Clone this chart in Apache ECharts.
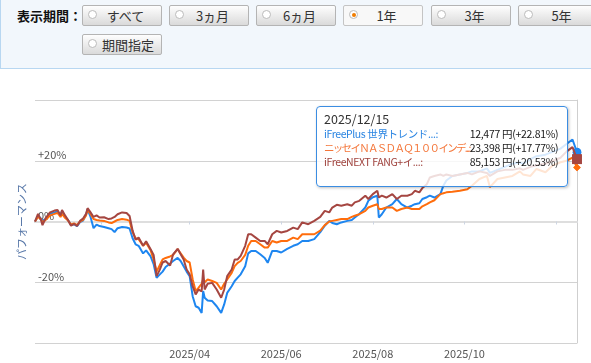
<!DOCTYPE html>
<html><head><meta charset="utf-8">
<script src="https://cdn.jsdelivr.net/npm/echarts@6/dist/echarts.min.js"></script>
<style>
html,body{margin:0;padding:0;width:591px;height:363px;overflow:hidden;background:#fff;font-family:"Noto Sans CJK JP","Noto Sans",sans-serif;}
#chart{position:absolute;left:0;top:0;width:591px;height:363px;}
#panel{position:absolute;left:0;top:0;width:640px;height:69px;background:#f2f7fc;border-left:1px solid #b8d7f1;border-bottom:1px solid #b8d7f1;box-sizing:border-box;z-index:5;}
.lbl{position:absolute;left:16px;top:7px;font-size:13px;font-weight:bold;color:#111;line-height:18px;}
.btn{position:absolute;width:80px;height:21px;box-sizing:border-box;border:1px solid #b4b4b4;border-radius:2px;background:linear-gradient(#fefefe,#dadada);font-size:13px;color:#333;line-height:19px;text-align:center;padding-left:7px;}
.btn .r{position:absolute;left:5px;top:4px;width:7px;height:7px;border:1px solid #bbb;border-radius:50%;background:#fff;}
.btn.sel{background:#f8f8f8;border-color:#c4c4c4;}
.btn.sel .r::after{content:'';position:absolute;left:1.5px;top:1.5px;width:4px;height:4px;border-radius:50%;background:#f07d00;}
</style>
</head><body>
<div id="chart"></div>
<div id="panel">
  <div class="lbl">表示期間：</div>
  <div class="btn" style="left:81px;top:5px"><span class="r"></span>すべて</div>
  <div class="btn" style="left:168px;top:5px"><span class="r"></span>3ヵ月</div>
  <div class="btn" style="left:255px;top:5px"><span class="r"></span>6ヵ月</div>
  <div class="btn sel" style="left:342px;top:5px"><span class="r"></span>1年</div>
  <div class="btn" style="left:430px;top:5px"><span class="r"></span>3年</div>
  <div class="btn" style="left:517px;top:5px"><span class="r"></span>5年</div>
  <div class="btn" style="left:81px;top:34px;padding-left:12px"><span class="r"></span>期間指定</div>
</div>
<script>
const dates = ['2024-12-19','2024-12-21','2024-12-23','2024-12-24','2024-12-26','2024-12-29','2025-01-01','2025-01-03','2025-01-05','2025-01-06',
'2025-01-08','2025-01-10','2025-01-12','2025-01-14','2025-01-16','2025-01-18','2025-01-20','2025-01-22','2025-01-23','2025-01-25',
'2025-01-27','2025-01-29','2025-01-31','2025-02-03','2025-02-06','2025-02-08','2025-02-10','2025-02-12','2025-02-15','2025-02-18',
'2025-02-20','2025-02-22','2025-02-24','2025-02-26','2025-03-01','2025-03-03','2025-03-06','2025-03-08','2025-03-10','2025-03-12',
'2025-03-14','2025-03-16','2025-03-19','2025-03-21','2025-03-24','2025-03-26','2025-03-28','2025-03-30','2025-04-01','2025-04-03',
'2025-04-05','2025-04-07','2025-04-09','2025-04-10','2025-04-11','2025-04-13','2025-04-16','2025-04-19','2025-04-22','2025-04-24',
'2025-04-26','2025-04-29','2025-05-01','2025-05-03','2025-05-05','2025-05-08','2025-05-10','2025-05-12','2025-05-15','2025-05-18',
'2025-05-21','2025-05-23','2025-05-26','2025-05-29','2025-06-01','2025-06-05','2025-06-09','2025-06-12','2025-06-15','2025-06-19',
'2025-06-23','2025-06-27','2025-06-30','2025-07-03','2025-07-05','2025-07-08','2025-07-11','2025-07-15','2025-07-18','2025-07-20',
'2025-07-23','2025-07-27','2025-07-29','2025-08-01','2025-08-04','2025-08-05','2025-08-07','2025-08-10','2025-08-14','2025-08-17',
'2025-08-20','2025-08-24','2025-08-27','2025-08-29','2025-09-01','2025-09-03','2025-09-06','2025-09-08','2025-09-11','2025-09-15',
'2025-09-17','2025-09-19','2025-09-23','2025-09-28','2025-10-03','2025-10-06','2025-10-11','2025-10-16','2025-10-18','2025-10-23',
'2025-10-28','2025-11-02','2025-11-07','2025-11-09','2025-11-14','2025-11-18','2025-11-24','2025-11-29','2025-12-04','2025-12-08',
'2025-12-12','2025-12-15'];
const blueVals = [0,1.8,1.0,0.3,0.8,2.5,3.0,3.3,2.0,3.5,
1.5,0.5,-1.2,-0.9,-1.5,-0.2,0.3,2.3,4.0,1.5,
-2.2,-1.0,-1.5,-1.8,-2.2,-2.5,-3.5,-2.2,-1.8,-2.0,
-2.3,-5.5,-7.5,-8.0,-10.5,-9.5,-11.5,-14.0,-18.5,-17.5,
-16.5,-15.0,-13.8,-13.0,-12.0,-13.0,-14.7,-16.5,-18.0,-24.6,
-27.9,-28.4,-30.1,-22.9,-25.1,-26.0,-26.2,-27.9,-30.1,-27.3,
-23.5,-21.3,-19.6,-18.5,-17.4,-14.7,-10.5,-9.7,-9.7,-10.8,
-12.0,-13.6,-9.7,-9.7,-10.2,-9.0,-8.0,-7.5,-6.4,-6.4,
-5.8,-3.5,-1.4,0.2,-0.5,-0.9,-0.3,0.2,0.5,1.3,
2.5,4.6,6.8,8.0,8.5,1.3,2.4,4.6,5.7,7.4,
5.7,4.6,5.2,5.7,6.0,7.4,8.0,8.5,7.9,9.0,
11.8,13.5,15.0,15.5,16.0,16.5,16.5,17.5,16.0,17.0,
18.0,19.0,19.5,19.0,20.5,21.5,22.0,23.0,24.0,25.5,
27.0,22.81];
const orangeVals = [0,1.5,0.8,-0.3,0.5,2.0,2.5,2.8,1.5,2.5,
1.2,0.3,-1.0,-0.6,-1.2,0.0,0.5,2.0,3.8,2.5,
0.8,0.5,0.3,0.2,-0.3,-0.5,0.0,0.5,0.8,0.6,
0.2,-3.5,-5.5,-5.8,-8.0,-7.0,-9.5,-12.5,-16.5,-14.5,
-12.5,-12.0,-11.5,-11.0,-9.1,-10.5,-11.9,-13.0,-13.5,-19.0,
-22.9,-21.8,-20.5,-19.1,-20.0,-19.1,-19.6,-20.2,-22.4,-20.5,
-19.1,-16.9,-14.7,-13.6,-13.0,-11.0,-8.0,-6.4,-6.4,-7.5,
-8.6,-8.6,-6.4,-6.9,-6.4,-6.4,-5.3,-5.8,-4.2,-4.2,
-4.2,-3.0,-1.2,0.0,0.2,0.5,0.8,0.8,1.5,1.9,
2.4,3.5,4.6,5.2,5.7,4.1,4.1,4.6,4.6,3.5,
4.1,4.6,4.1,4.1,4.1,5.0,5.7,6.3,7.0,9.0,
9.3,9.6,9.8,10.1,10.6,11.8,14.0,15.0,11.3,14.0,
14.5,15.0,16.5,15.5,15.0,17.3,16.2,18.5,19.5,20.0,
21.0,17.77];
const brownVals = [0,2.5,0.5,-1.2,1.0,3.0,3.6,3.8,2.0,3.8,
2.0,0.5,-1.4,-0.8,-1.5,0.2,1.0,2.5,4.4,3.0,
1.5,2.0,1.3,1.4,0.8,1.0,1.5,2.4,3.0,2.8,
1.8,-3.0,-6.0,-5.3,-8.0,-6.5,-9.1,-11.0,-18.0,-16.0,
-13.5,-13.0,-14.5,-10.8,-9.0,-10.8,-12.5,-15.8,-17.4,-21.3,
-24.0,-22.4,-23.0,-15.8,-22.4,-20.5,-20.2,-22.4,-25.1,-22.4,
-18.0,-15.8,-12.5,-12.5,-11.3,-8.0,-4.2,-4.2,-5.3,-6.4,
-6.4,-7.5,-4.2,-3.1,-3.6,-3.1,-2.0,-2.5,-0.3,-0.9,
0.2,1.5,3.5,3.0,4.6,5.5,5.2,5.7,5.2,6.3,
6.8,8.5,7.4,9.0,10.1,7.9,8.5,7.9,9.0,7.4,
8.5,8.5,9.0,10.1,9.6,11.0,12.3,14.5,15.0,15.5,
15.0,15.5,15.0,15.5,16.0,15.5,16.5,16.0,15.0,16.5,
17.0,17.0,17.5,17.0,18.0,18.5,19.0,20.0,21.0,23.0,
24.5,20.53];
const seriesNames = ['iFreePlus 世界トレンド...', 'ニッセイＮＡＳＤＡＱ１００インデ...', 'iFreeNEXT FANG+イ...'];
const priceLabels = ['12,477', '23,398', '85,153'];
const tipDate = '2025/12/15';
const tickDates = ['2025-02-01','2025-04-01','2025-06-01','2025-08-01','2025-10-01','2025-12-01'];
const labelDates = ['2025-04-01','2025-06-01','2025-08-01','2025-10-01'];
const yLabelValues = [-20, 0, 20];
const axisMin = '2024-12-19', axisMax = '2025-12-15';

const lineColors = ['#1e86f0', '#ff6d0c', '#a54641'];
const textColors = ['#2a85e2', '#f4763a', '#a0443f'];
const endSymbols = [['circle', 8], ['diamond', 7], ['rect', 9]];

function toTs(s){ const p = s.split('-').map(Number); return new Date(p[0], p[1]-1, p[2]).getTime(); }
const allVals = [blueVals, orangeVals, brownVals];
const last = dates.length - 1;

const chart = echarts.init(document.getElementById('chart'), null, {renderer: 'canvas'});
const series = allVals.map((vals, k) => ({
  name: seriesNames[k],
  type: 'line',
  data: dates.map((d, i) => [toTs(d), vals[i]]),
  showSymbol: false,
  symbol: endSymbols[k][0],
  symbolSize: endSymbols[k][1],
  lineStyle: {width: 2, color: lineColors[k]},
  itemStyle: {color: lineColors[k]},
  emphasis: {disabled: true},
  z: 3 + k,
  markPoint: {
    silent: true,
    symbol: endSymbols[k][0],
    symbolSize: endSymbols[k][1],
    itemStyle: {color: lineColors[k]},
    label: {show: false},
    data: [{coord: [toTs(dates[last]), vals[last]]}]
  }
}));

function fmtPct(v){ return (v > 0 ? '+' : '') + v.toFixed(2) + '%'; }

chart.setOption({
  animation: false,
  grid: {left: 35, right: 14, top: 100, bottom: 20},
  xAxis: [{
    type: 'value', min: toTs(axisMin), max: toTs(axisMax),
    axisLine: {lineStyle: {color: '#cdd5e2', width: 2}},
    axisTick: {show: true, length: 3, customValues: tickDates.map(toTs), lineStyle: {color: '#cdd5e2', width: 1}},
    axisLabel: {customValues: labelDates.map(toTs), color: '#555', fontSize: 11, margin: 5,
      fontFamily: 'Noto Sans CJK JP',
      formatter: v => { const d = new Date(v); return d.getFullYear() + '/' + String(d.getMonth()+1).padStart(2, '0'); }},
    splitLine: {show: false}
  }, {
    type: 'value', position: 'top', min: toTs(axisMin), max: toTs(axisMax),
    axisLine: {show: true, lineStyle: {color: '#dedede', width: 2}},
    axisTick: {show: false}, axisLabel: {show: false}, splitLine: {show: false}
  }],
  yAxis: [{
    type: 'value', min: -40, max: 40, interval: 20,
    name: 'パフォーマンス', nameLocation: 'middle', nameRotate: 90, nameGap: 8,
    nameTextStyle: {color: '#5777a8', fontSize: 11, fontFamily: 'Noto Sans CJK JP'},
    axisLine: {show: false}, axisTick: {show: false},
    splitLine: {lineStyle: {color: '#d2d2d2', width: 1}},
    axisLabel: {inside: true, margin: 3, customValues: yLabelValues, verticalAlign: 'bottom',
      color: '#555', fontSize: 11, fontFamily: 'Noto Sans CJK JP',
      formatter: v => (v > 0 ? '+' : '') + v + '%'}
  }, {
    type: 'value', min: -40, max: 40, interval: 20, position: 'right',
    axisLine: {show: true, lineStyle: {color: '#cfcfcf', width: 1}},
    axisTick: {show: false}, axisLabel: {show: false}, splitLine: {show: false}
  }],
  tooltip: {
    trigger: 'axis',
    axisPointer: {type: 'none'},
    alwaysShowContent: true,
    transitionDuration: 0,
    showDelay: 0,
    position: [316, 106],
    backgroundColor: 'rgba(255,255,255,0.82)',
    borderColor: '#3b8de2',
    borderWidth: 1.5,
    borderRadius: 4,
    padding: [4, 9, 17, 7],
    extraCssText: 'box-shadow:1px 1px 3px rgba(0,0,0,0.25);width:234px;box-sizing:content-box;',
    formatter: () => {
      let h = '<div style="font-size:12.5px;color:#333;line-height:16px;font-family:\'Noto Sans CJK JP\'">' + tipDate + '</div>';
      h += '<table style="border-collapse:collapse;width:100%;font-size:10.5px;line-height:14px;font-family:\'Noto Sans CJK JP\'">';
      for (let k = 0; k < 3; k++) {
        h += '<tr><td style="padding:0;color:' + textColors[k] + ';white-space:nowrap;letter-spacing:' + (k === 1 ? '-1.7px' : '-0.4px') + '">' + seriesNames[k] + ':</td>' +
             '<td style="padding:0;text-align:right;color:#1a1a1a;white-space:nowrap;letter-spacing:-0.3px">' + priceLabels[k] + ' 円(' + fmtPct(allVals[k][last]) + ')</td></tr>';
      }
      h += '</table>';
      return h;
    }
  },
  series: series
});
chart.dispatchAction({type: 'showTip', seriesIndex: 0, dataIndex: last});
</script>
</body></html>
